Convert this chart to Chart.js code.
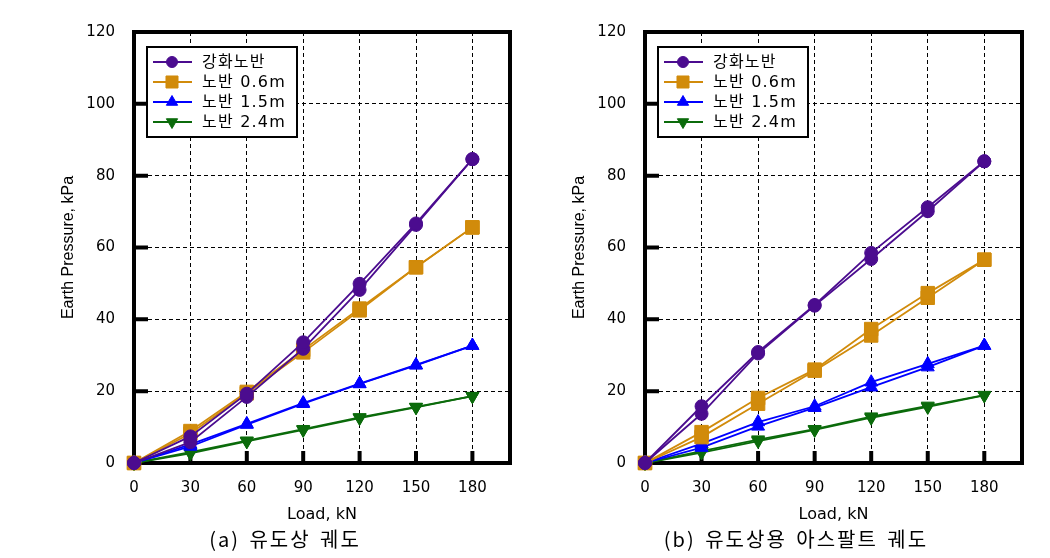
<!DOCTYPE html>
<html><head><meta charset="utf-8">
<script src="https://cdn.jsdelivr.net/npm/chart.js@4/dist/chart.umd.min.js"></script>
<style>
html,body{margin:0;padding:0;background:#fff;width:1050px;height:558px;overflow:hidden;position:relative}
.box{position:absolute;top:0;height:558px}
.cap{position:absolute;top:526px;transform:translateX(-50%);font-family:"Noto Sans CJK KR";font-size:20px;line-height:26px;white-space:nowrap;color:#000;letter-spacing:2px;word-spacing:3px}
</style></head>
<body>
<div class="box" style="left:0;width:525px"><canvas id="c1"></canvas></div>
<div class="box" style="left:511px;width:539px"><canvas id="c2"></canvas></div>
<div class="cap" style="left:285px">(a) 유도상 궤도</div>
<div class="cap" style="left:796px">(b) 유도상용 아스팔트 궤도</div>
<script>
// ---- data ----
const loads = [0, 30, 60, 90, 120, 150, 180];
const seriesNames = ['강화노반', '노반 0.6m', '노반 1.5m', '노반 2.4m'];
const xTickLabels = [0, 30, 60, 90, 120, 150, 180];
const yTickLabels = [0, 20, 40, 60, 80, 100, 120];

// (a) 유도상 궤도 — two curves per series (loading / unloading)
const a_reinf_1 = [0, 7.4, 19.3, 33.6, 49.9, 66.7, 84.6];
const a_reinf_2 = [0, 5.8, 18.4, 31.8, 48.2, 66.3, 84.6];
const a_06_1 = [0, 8.9, 19.8, 31.5, 43.0, 54.5, 65.6];
const a_06_2 = [0, 8.2, 19.4, 30.8, 42.5, 54.5, 65.6];
const a_15_1 = [0, 5.2, 10.9, 16.7, 22.1, 27.3, 32.7];
const a_15_2 = [0, 4.6, 10.7, 16.5, 22.0, 27.2, 32.7];
const a_24_1 = [0, 3.0, 6.2, 9.4, 12.7, 15.6, 18.6];
const a_24_2 = [0, 2.7, 6.0, 9.2, 12.5, 15.5, 18.6];

// (b) 유도상용 아스팔트 궤도
const b_reinf_1 = [0, 15.8, 30.9, 44.0, 58.5, 71.2, 84.0];
const b_reinf_2 = [0, 13.7, 30.5, 43.8, 56.8, 70.1, 84.0];
const b_06_1 = [0, 8.6, 18.1, 26.0, 37.3, 47.3, 56.6];
const b_06_2 = [0, 7.2, 16.5, 25.7, 35.5, 46.0, 56.6];
const b_15_1 = [0, 5.4, 11.4, 15.8, 22.5, 27.6, 32.7];
const b_15_2 = [0, 4.3, 10.2, 15.4, 21.1, 26.7, 32.7];
const b_24_1 = [0, 3.3, 6.5, 9.4, 12.9, 15.9, 18.9];
const b_24_2 = [0, 2.9, 6.1, 9.2, 12.6, 15.6, 18.8];

// ---- styles ----
const seriesColors = ['#4b0c8f', '#d18b0b', '#0000ff', '#0b6b0b'];
const seriesMarkers = ['circle', 'rect', 'triangle', 'triangle'];
const markerRot = [0, 0, 0, 180];
const markerRad = [6.5, 9.5, 7.5, 7.5];

function buildDatasets(pairs) {
  const ds = [];
  pairs.forEach((pair, si) => {
    pair.forEach((vals, k) => {
      ds.push({
        label: seriesNames[si] + (k ? ' (2)' : ''),
        data: loads.map((x, i) => ({x: x, y: vals[i]})),
        borderColor: seriesColors[si],
        backgroundColor: seriesColors[si],
        pointBackgroundColor: seriesColors[si],
        pointBorderColor: seriesColors[si],
        pointStyle: seriesMarkers[si],
        pointRotation: markerRot[si],
        pointRadius: markerRad[si],
        pointBorderWidth: 1,
        borderWidth: 1.8,
        tension: 0,
        clip: false
      });
    });
  });
  return ds;
}

const decor = {
  id: 'decor',
  beforeDatasetsDraw(chart) {
    const {ctx, chartArea: a, scales: {x, y}} = chart;
    ctx.save();
    ctx.strokeStyle = '#000';
    ctx.lineWidth = 4;
    ctx.beginPath();
    y.ticks.forEach(t => {
      if (t.value > y.min && t.value < y.max) {
        const py = y.getPixelForValue(t.value);
        ctx.moveTo(a.left, py); ctx.lineTo(a.left + 14, py);
      }
    });
    x.ticks.forEach(t => {
      if (t.value > x.min && t.value < x.max) {
        const px = x.getPixelForValue(t.value);
        ctx.moveTo(px, a.bottom); ctx.lineTo(px, a.bottom - 12);
      }
    });
    ctx.stroke();
    ctx.strokeRect(a.left, a.top, a.right - a.left, a.bottom - a.top);
    ctx.restore();
  },
  afterDraw(chart) {
    const {ctx, chartArea: a} = chart;
    const bx = a.left + 13, by = a.top + 15, bw = 150, bh = 90;
    ctx.save();
    ctx.fillStyle = '#fff';
    ctx.fillRect(bx, by, bw, bh);
    ctx.lineWidth = 2;
    ctx.strokeStyle = '#000';
    ctx.strokeRect(bx, by, bw, bh);
    seriesNames.forEach((n, i) => {
      const cy = by + 15 + i * 20;
      ctx.strokeStyle = seriesColors[i];
      ctx.fillStyle = seriesColors[i];
      ctx.lineWidth = 2;
      ctx.beginPath(); ctx.moveTo(bx + 6, cy); ctx.lineTo(bx + 45, cy); ctx.stroke();
      ctx.lineWidth = 1;
      Chart.helpers.drawPoint(ctx, {pointStyle: seriesMarkers[i], rotation: markerRot[i],
        radius: markerRad[i] - 1, borderWidth: 1}, bx + 25, cy);
      ctx.fillStyle = '#000';
      ctx.font = '16px "DejaVu Sans", "Noto Sans CJK KR"';
      ctx.letterSpacing = '1.2px';
      ctx.textBaseline = 'middle';
      ctx.textAlign = 'left';
      ctx.fillText(n, bx + 55, cy + 1);
    });
    ctx.restore();
  }
};

function makeChart(id, pairs, padRight) {
  return new Chart(document.getElementById(id), {
    type: 'line',
    data: {datasets: buildDatasets(pairs)},
    plugins: [decor],
    options: {
      responsive: true,
      maintainAspectRatio: false,
      animation: false,
      layout: {padding: {left: 0, top: 32, right: padRight, bottom: 30}},
      plugins: {legend: {display: false}, tooltip: {enabled: false}},
      scales: {
        x: {
          type: 'linear', min: 0, max: 200,
          afterBuildTicks: s => { s.ticks = xTickLabels.map(v => ({value: v})); },
          afterFit: s => { s.height = 65; },
          ticks: {autoSkip: false, color: '#000', padding: 16, font: {family: 'DejaVu Sans', size: 15}, maxRotation: 0},
          grid: {color: '#000', lineWidth: 1, drawTicks: false},
          border: {display: false, dash: [4, 3]},
          title: {display: true, text: 'Load, kN', color: '#000', font: {family: 'DejaVu Sans', size: 16}, padding: {top: 0, bottom: 4}}
        },
        y: {
          min: 0, max: 120,
          afterBuildTicks: s => { s.ticks = yTickLabels.map(v => ({value: v})); },
          afterFit: s => { s.width = 134; },
          ticks: {autoSkip: false, color: '#000', padding: 19, font: {family: 'DejaVu Sans', size: 15}},
          grid: {color: '#000', lineWidth: 1, drawTicks: false},
          border: {display: false, dash: [4, 3]},
          title: {display: true, text: 'Earth Pressure, kPa', color: '#000', font: {family: 'Liberation Sans', size: 16}, padding: {top: 59, bottom: 0}}
        }
      }
    }
  });
}

makeChart('c1', [[a_reinf_1, a_reinf_2], [a_06_1, a_06_2], [a_15_1, a_15_2], [a_24_1, a_24_2]], 15);
makeChart('c2', [[b_reinf_1, b_reinf_2], [b_06_1, b_06_2], [b_15_1, b_15_2], [b_24_1, b_24_2]], 28);
</script>
</body></html>
